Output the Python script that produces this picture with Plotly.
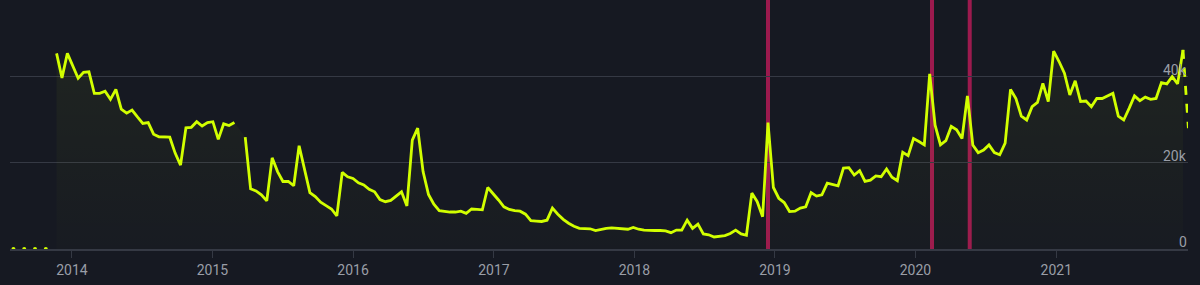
import pandas as pd
import plotly.graph_objects as go

# ---- data (values in thousands) ----
start_date = "2013-11-22"
step = "14D"
values_k = [
    45.5, 39.8, 45.5, 42.6, 39.7, 41.1, 41.2, 36.2, 36.2, 36.7,
    34.8, 37.1, 32.5, 31.6, 32.3, 30.7, 29.2, 29.4, 26.7, 26.1,
    26.0, 26.0, 22.3, 19.5, 28.2, 28.3, 29.6, 28.6, 29.4, 29.6,
    25.5, 29.1, 28.7, 29.4, None, 26.0, 14.0, 13.5, 12.6, 11.2,
    21.2, 18.0, 15.7, 15.7, 14.7, 24.0, 18.5, 13.1, 12.2, 10.9,
    10.1, 9.3, 7.7, 17.8, 16.8, 16.4, 15.4, 14.9, 13.9, 13.3,
    11.5, 11.0, 11.3, 12.4, 13.3, 10.0, 25.3, 28.1, 18.0, 12.7,
    10.4, 8.9, 8.7, 8.6, 8.6, 8.8, 8.3, 9.3, 9.2, 9.1,
    14.3, 12.9, 11.4, 9.8, 9.2, 8.9, 8.8, 8.1, 6.6, 6.5,
    6.4, 6.7, 9.5, 8.1, 6.9, 6.0, 5.3, 4.8, 4.8, 4.7,
    4.3, 4.6, 4.8, 4.9, 4.8, 4.7, 4.6, 5.0, 4.6, 4.4,
    4.3, 4.3, 4.3, 4.2, 3.8, 4.4, 4.4, 6.7, 4.8, 5.8,
    3.5, 3.3, 2.8, 2.9, 3.1, 3.6, 4.4, 3.5, 3.2, 13.0,
    11.0, 7.5, 29.4, 14.3, 11.8, 10.8, 8.7, 8.8, 9.5, 9.8,
    13.1, 12.3, 12.6, 15.3, 15.0, 14.7, 18.8, 18.9, 17.2, 18.2,
    15.7, 16.0, 17.0, 16.8, 18.6, 16.7, 15.9, 22.5, 21.7, 25.7,
    25.0, 24.2, 40.7, 28.8, 24.2, 25.2, 28.5, 27.7, 25.7, 35.6,
    24.2, 22.4, 23.0, 24.2, 22.4, 21.9, 24.6, 37.1, 35.0, 30.9,
    30.0, 33.1, 34.1, 38.5, 34.3, 46.0, 43.6, 40.9, 35.8, 39.1,
    34.3, 34.4, 33.1, 35.0, 35.0, 35.6, 36.2, 30.9, 30.0, 32.7,
    35.6, 34.5, 35.3, 34.8, 35.0, 38.7, 38.4, 40.1, 38.4, 46.3,
    28.1,
]
# early zero readings (every other period before the series starts)
lead_periods_before = [8, 6, 4, 2]
lead_values_k = [0, 0, 0, 0]

event_dates = ["2018-12-14", "2020-02-13", "2020-05-21"]

x_range = ["2013-07-24", "2021-12-09"]
y_tickvals = [0, 20, 40]
y_ticktext = ["0", "20k", "40k"]
x_tickvals = ["2014-01-01", "2015-01-01", "2016-01-01", "2017-01-01",
              "2018-01-01", "2019-01-01", "2020-01-01", "2021-01-01"]
x_ticktext = ["2014", "2015", "2016", "2017", "2018", "2019", "2020", "2021"]

# ---- build ----
dates = pd.date_range(start_date, periods=len(values_k), freq=step)
lead_dates = [pd.Timestamp(start_date) - pd.Timedelta(days=14 * k) for k in lead_periods_before]

BG = "#161922"
LINE = "#d2ff00"
GRID = "#353944"
TXT = "#9a9ea7"

fig = go.Figure()

# solid main series (all but the last, incomplete point)
fig.add_trace(go.Scatter(
    x=dates[:-1], y=values_k[:-1], mode="lines",
    line=dict(color=LINE, width=2.8),
    connectgaps=False,
    fill="tozeroy",
    fillgradient=dict(type="vertical",
                      colorscale=[[0, "rgba(210,255,0,0.01)"], [1, "rgba(210,255,0,0.05)"]]),
    hoverinfo="skip", showlegend=False,
))
# dashed last segment
fig.add_trace(go.Scatter(
    x=dates[-2:], y=values_k[-2:], mode="lines",
    line=dict(color=LINE, width=2.8, dash="dash"),
    hoverinfo="skip", showlegend=False,
))
# early zero readings
fig.add_trace(go.Scatter(
    x=lead_dates, y=lead_values_k, mode="markers",
    marker=dict(color=LINE, size=4),
    cliponaxis=False, hoverinfo="skip", showlegend=False,
))

for d in event_dates:
    fig.add_shape(type="line", xref="x", yref="paper", x0=d, x1=d, y0=0, y1=1,
                  line=dict(color="#9c1a4e", width=4), layer="below")

# y tick labels drawn inside the plot, just above each gridline
for v, t in zip(y_tickvals, y_ticktext):
    fig.add_annotation(x=1, xref="paper", y=v, yref="y", text=t,
                       showarrow=False, xanchor="right", yanchor="middle",
                       yshift=7, xshift=1, font=dict(size=14, color=TXT))

fig.update_layout(
    width=1200, height=285,
    margin=dict(l=10, r=12, t=0, b=36),
    paper_bgcolor=BG, plot_bgcolor=BG,
    font=dict(family="Roboto, sans-serif", size=13, color=TXT),
    showlegend=False,
)
fig.update_xaxes(
    type="date", range=x_range,
    tickvals=x_tickvals, ticktext=x_ticktext,
    showgrid=False, zeroline=False,
    showline=True, linecolor=GRID, linewidth=1.5,
    ticks="outside", ticklen=7, tickcolor=GRID, tickwidth=1,
    tickfont=dict(size=14, color=TXT),
)
fig.update_yaxes(
    range=[0, 57.9], side="right",
    tickvals=y_tickvals, showticklabels=False,
    showgrid=True, gridcolor=GRID, gridwidth=1,
    zeroline=False, showline=False, ticks="",
)

fig.write_html("out.html")
